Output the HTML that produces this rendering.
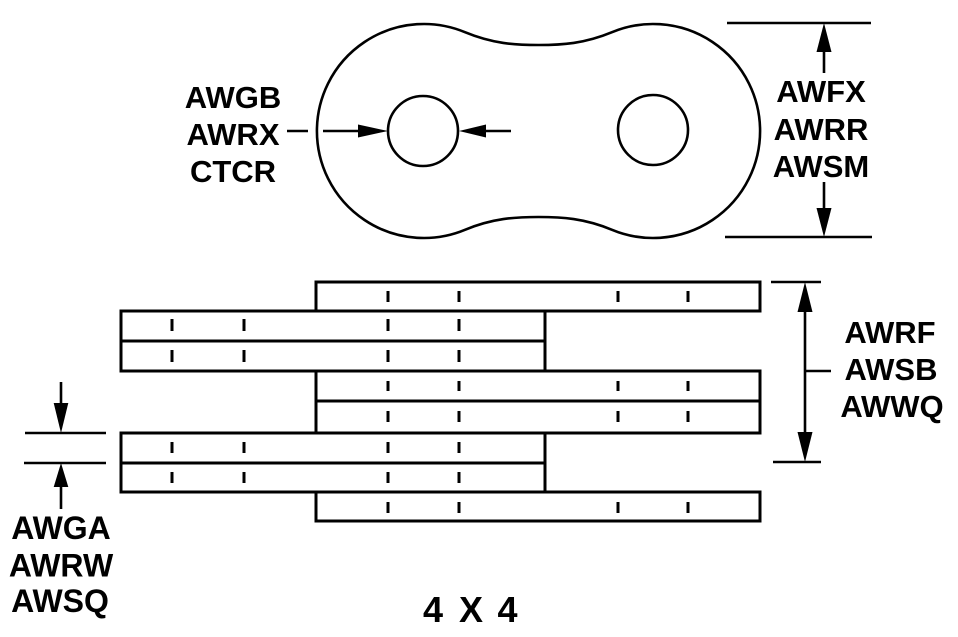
<!DOCTYPE html>
<html>
<head>
<meta charset="utf-8">
<style>
html,body{margin:0;padding:0;background:#fff;}
svg{display:block;}
text{font-family:"Liberation Sans",Arial,sans-serif;font-weight:bold;fill:#000;}
</style>
</head>
<body>
<svg width="958" height="637" viewBox="0 0 958 637" xmlns="http://www.w3.org/2000/svg">
<rect width="958" height="637" fill="#fff"/>

<!-- Link plate outline -->
<path d="M 465 32.2 A 107 107 0 1 0 465 229.8 C 492.7 218.3 515 217 538.5 217 C 562 217 584.3 218.3 612 229.8 A 107 107 0 1 0 612 32.2 C 584.3 43.7 562 45 538.5 45 C 515 45 492.7 43.7 465 32.2 Z" fill="none" stroke="#000" stroke-width="2.6"/>
<circle cx="423" cy="131" r="35" fill="none" stroke="#000" stroke-width="2.6"/>
<circle cx="653" cy="130" r="35" fill="none" stroke="#000" stroke-width="2.6"/>

<!-- Hole diameter dimension -->
<g stroke="#000" stroke-width="2.6">
<line x1="287" y1="131" x2="308" y2="131"/>
<line x1="323" y1="131" x2="360" y2="131"/>
<line x1="484" y1="131" x2="511" y2="131"/>
</g>
<polygon points="388,131 358,124.5 358,137.5" fill="#000"/>
<polygon points="459,131 486,124.5 486,137.5" fill="#000"/>

<!-- Top right height dimension -->
<g stroke="#000" stroke-width="2.6">
<line x1="727" y1="23" x2="871" y2="23"/>
<line x1="725" y1="237" x2="872" y2="237"/>
<line x1="824" y1="50" x2="824" y2="73"/>
<line x1="824" y1="182" x2="824" y2="210"/>
</g>
<polygon points="824,23 816.5,52 831.5,52" fill="#000"/>
<polygon points="824,237 816.5,208 831.5,208" fill="#000"/>

<!-- Chain side view plates -->
<g stroke="#000" stroke-width="3" stroke-linecap="square">
<line x1="316" y1="282" x2="760" y2="282"/>
<line x1="121" y1="311" x2="760" y2="311"/>
<line x1="121" y1="341" x2="545" y2="341"/>
<line x1="121" y1="371" x2="760" y2="371"/>
<line x1="316" y1="401" x2="760" y2="401"/>
<line x1="121" y1="433" x2="760" y2="433"/>
<line x1="121" y1="463" x2="545" y2="463"/>
<line x1="121" y1="492" x2="760" y2="492"/>
<line x1="316" y1="521" x2="760" y2="521"/>

<line x1="316" y1="282" x2="316" y2="311"/>
<line x1="316" y1="371" x2="316" y2="433"/>
<line x1="316" y1="492" x2="316" y2="521"/>
<line x1="760" y1="282" x2="760" y2="311"/>
<line x1="760" y1="371" x2="760" y2="433"/>
<line x1="760" y1="492" x2="760" y2="521"/>
<line x1="121" y1="311" x2="121" y2="371"/>
<line x1="121" y1="433" x2="121" y2="492"/>
<line x1="545" y1="311" x2="545" y2="371"/>
<line x1="545" y1="433" x2="545" y2="492"/>
</g>

<!-- Pin tick marks -->
<g fill="#000">
<rect x="386.5" y="291" width="3" height="11"/>
<rect x="457.5" y="291" width="3" height="11"/>
<rect x="616.5" y="291" width="3" height="11"/>
<rect x="686.5" y="291" width="3" height="11"/>

<rect x="170.5" y="319" width="3" height="12"/>
<rect x="242.5" y="319" width="3" height="12"/>
<rect x="386.5" y="319" width="3" height="12"/>
<rect x="457.5" y="319" width="3" height="12"/>
<rect x="170.5" y="350" width="3" height="12"/>
<rect x="242.5" y="350" width="3" height="12"/>
<rect x="386.5" y="350" width="3" height="12"/>
<rect x="457.5" y="350" width="3" height="12"/>

<rect x="386.5" y="381" width="3" height="10"/>
<rect x="457.5" y="381" width="3" height="10"/>
<rect x="616.5" y="381" width="3" height="10"/>
<rect x="686.5" y="381" width="3" height="10"/>
<rect x="386.5" y="411" width="3" height="11"/>
<rect x="457.5" y="411" width="3" height="11"/>
<rect x="616.5" y="411" width="3" height="11"/>
<rect x="686.5" y="411" width="3" height="11"/>

<rect x="170.5" y="442" width="3" height="11"/>
<rect x="242.5" y="442" width="3" height="11"/>
<rect x="386.5" y="442" width="3" height="11"/>
<rect x="457.5" y="442" width="3" height="11"/>
<rect x="170.5" y="472" width="3" height="11"/>
<rect x="242.5" y="472" width="3" height="11"/>
<rect x="386.5" y="472" width="3" height="11"/>
<rect x="457.5" y="472" width="3" height="11"/>

<rect x="386.5" y="502" width="3" height="11"/>
<rect x="457.5" y="502" width="3" height="11"/>
<rect x="616.5" y="502" width="3" height="11"/>
<rect x="686.5" y="502" width="3" height="11"/>
</g>

<!-- Right side width dimension -->
<g stroke="#000" stroke-width="2.6">
<line x1="771" y1="282" x2="821" y2="282"/>
<line x1="773" y1="462" x2="821" y2="462"/>
<line x1="805" y1="300" x2="805" y2="445"/>
<line x1="805" y1="371" x2="831" y2="371"/>
</g>
<polygon points="805,282 797.5,312 812.5,312" fill="#000"/>
<polygon points="805,462 797.5,432 812.5,432" fill="#000"/>

<!-- Left plate thickness dimension -->
<g stroke="#000" stroke-width="2.6">
<line x1="25" y1="433" x2="106" y2="433"/>
<line x1="24" y1="463" x2="106" y2="463"/>
<line x1="61" y1="382" x2="61" y2="406"/>
<line x1="61" y1="484" x2="61" y2="509"/>
</g>
<polygon points="61,433 53.7,403 68.3,403" fill="#000"/>
<polygon points="61,463 53.7,487 68.3,487" fill="#000"/>

<!-- Labels -->
<g font-size="31" text-anchor="middle">
<text x="233" y="108">AWGB</text>
<text x="233" y="145">AWRX</text>
<text x="233" y="182">CTCR</text>

<text x="821" y="102">AWFX</text>
<text x="821" y="140">AWRR</text>
<text x="821" y="177">AWSM</text>

<text x="890" y="343">AWRF</text>
<text x="891" y="380">AWSB</text>
<text x="892" y="417">AWWQ</text>
</g>
<g font-size="32" text-anchor="middle">
<text x="61" y="539">AWGA</text>
<text x="61" y="576.5">AWRW</text>
<text x="60" y="612">AWSQ</text>
</g>
<g font-size="36" text-anchor="middle">
<text x="433" y="622">4</text>
<text x="471" y="622">X</text>
<text x="507.5" y="622">4</text>
</g>
</svg>
</body>
</html>
